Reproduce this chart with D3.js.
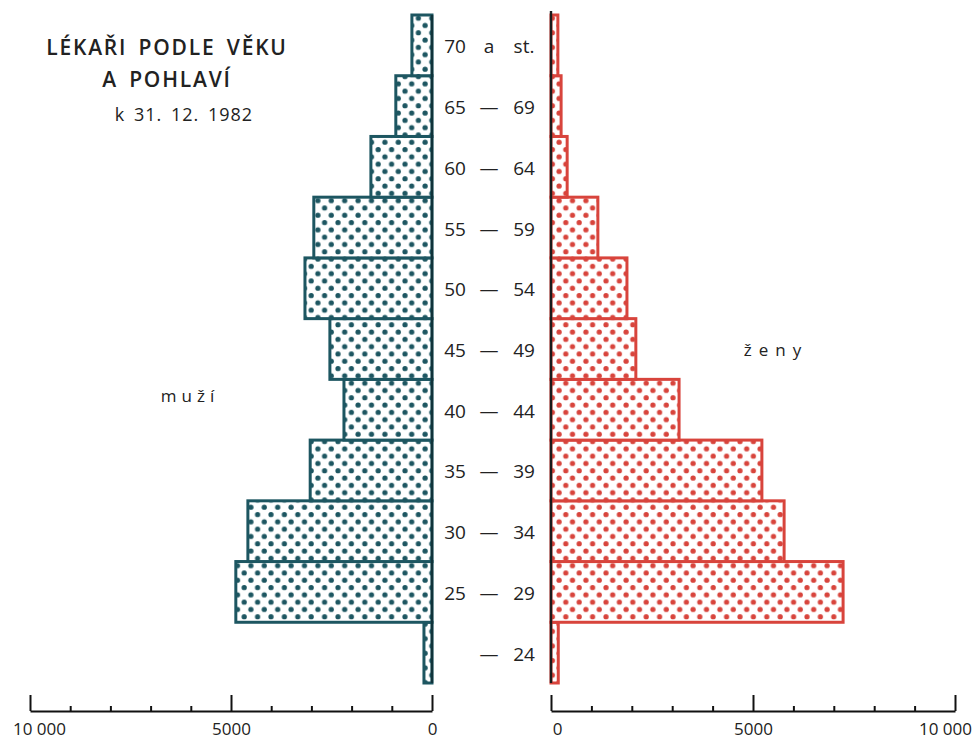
<!DOCTYPE html>
<html>
<head>
<meta charset="utf-8">
<script src="https://cdn.jsdelivr.net/npm/d3@7"></script>
<style>
  body { margin: 0; background: #fff; }
  svg text { font-family: "Open Sans", "DejaVu Sans", sans-serif; fill: #222; }
</style>
</head>
<body>
<svg id="chart" width="977" height="742"></svg>
<script>
// Age groups from youngest (bottom) to oldest (top)
const ageGroups = ["-24", "25-29", "30-34", "35-39", "40-44", "45-49", "50-54", "55-59", "60-64", "65-69", "70+"];
const ageFrom   = ["",    "25",    "30",    "35",    "40",    "45",    "50",    "55",    "60",    "65",    "70"];
const ageJoin   = ["—",   "—",     "—",     "—",     "—",     "—",     "—",     "—",     "—",     "—",     "a"];
const ageTo     = ["24",  "29",    "34",    "39",    "44",    "49",    "54",    "59",    "64",    "69",    "st."];

// Number of physicians per age group
const men   = [200, 4880, 4580, 3030, 2190, 2540, 3160, 2940, 1520, 900, 500];
const women = [180, 7230, 5770, 5220, 3170, 2100, 1880, 1160, 400, 250, 170];

// Axis ticks
const tickValues = [0, 1000, 2000, 3000, 4000, 5000, 6000, 7000, 8000, 9000, 10000];
const tickLabels = { 0: "0", 5000: "5000", 10000: "10 000" };

const svg = d3.select("#chart");
const teal = "#1d5661";
const red = "#d8443c";

const xL = d3.scaleLinear().domain([0, 10000]).range([432, 30]);
const xR = d3.scaleLinear().domain([0, 10000]).range([551, 955]);
const y = d3.scaleBand().domain(ageGroups.slice().reverse()).range([15, 683]).padding(0);

// Dotted fill patterns (staggered rows)
const defs = svg.append("defs");
function dotPattern(id, color) {
  const p = defs.append("pattern")
    .attr("id", id).attr("patternUnits", "userSpaceOnUse")
    .attr("width", 13.4).attr("height", 14.6);
  p.append("rect").attr("width", 13.4).attr("height", 14.6).attr("fill", "#fff");
  p.append("circle").attr("cx", 3).attr("cy", 3.6).attr("r", 2.6).attr("fill", color);
  p.append("circle").attr("cx", 9.7).attr("cy", 10.9).attr("r", 2.6).attr("fill", color);
}
dotPattern("dotsTeal", teal);
dotPattern("dotsRed", red);

// Men (left)
svg.append("g").selectAll("rect").data(ageGroups).join("rect")
  .attr("x", (d, i) => xL(men[i]))
  .attr("y", d => y(d))
  .attr("width", (d, i) => xL(0) - xL(men[i]))
  .attr("height", y.bandwidth())
  .attr("fill", "url(#dotsTeal)")
  .attr("stroke", teal).attr("stroke-width", 3);

// Women (right)
svg.append("g").selectAll("rect").data(ageGroups).join("rect")
  .attr("x", xR(0))
  .attr("y", d => y(d))
  .attr("width", (d, i) => xR(women[i]) - xR(0))
  .attr("height", y.bandwidth())
  .attr("fill", "url(#dotsRed)")
  .attr("stroke", red).attr("stroke-width", 3);

// Vertical base lines
svg.append("line").attr("x1", xL(0)).attr("x2", xL(0)).attr("y1", 15).attr("y2", 683)
  .attr("stroke", "#10333a").attr("stroke-width", 2.4);
svg.append("line").attr("x1", xR(0)).attr("x2", xR(0)).attr("y1", 11).attr("y2", 683)
  .attr("stroke", "#1a1a1a").attr("stroke-width", 2.4);

// Age labels in the centre column
const lab = svg.append("g").attr("font-size", 19);
ageGroups.forEach((g, i) => {
  const cy = y(g) + y.bandwidth() / 2 + 1;
  lab.append("text").attr("x", 455).attr("y", cy).attr("text-anchor", "middle")
    .attr("dominant-baseline", "central").text(ageFrom[i]);
  lab.append("text").attr("x", 489).attr("y", cy).attr("text-anchor", "middle")
    .attr("dominant-baseline", "central").text(ageJoin[i]);
  lab.append("text").attr("x", 524).attr("y", cy).attr("text-anchor", "middle")
    .attr("dominant-baseline", "central").text(ageTo[i]);
});

// Bottom axes with ticks pointing upward
function drawAxis(scale, labelShift) {
  const axis = d3.axisBottom(scale)
    .tickValues(tickValues)
    .tickSizeInner(-5).tickSizeOuter(0)
    .tickPadding(12)
    .tickFormat(d => tickLabels[d] || "");
  const g = svg.append("g").attr("transform", "translate(0,711)").call(axis);
  g.select(".domain").attr("stroke", "#111").attr("stroke-width", 2);
  g.selectAll(".tick line").attr("stroke", "#111").attr("stroke-width", 2)
    .filter(d => d % 5000 === 0).attr("y2", -16);
  g.selectAll(".tick text").attr("font-size", 17)
    .attr("font-family", "\"Open Sans\", sans-serif").attr("fill", "#222")
    .attr("dx", d => labelShift[d] || 0);
}
drawAxis(xL, { 10000: 9 });
drawAxis(xR, { 0: 6, 10000: -10 });

// Title block
svg.append("text").attr("x", 167).attr("y", 55).attr("text-anchor", "middle")
  .attr("font-size", 21).attr("font-weight", 600).attr("letter-spacing", 1.8).attr("word-spacing", 4)
  .text("LÉKAŘI PODLE VĚKU");
svg.append("text").attr("x", 167).attr("y", 87).attr("text-anchor", "middle")
  .attr("font-size", 21).attr("font-weight", 600).attr("letter-spacing", 1.8).attr("word-spacing", 4)
  .text("A POHLAVÍ");
svg.append("text").attr("x", 184).attr("y", 121).attr("text-anchor", "middle")
  .attr("font-size", 18).attr("letter-spacing", 1).attr("word-spacing", 3)
  .text("k 31. 12. 1982");

// Series labels
svg.append("text").attr("x", 190).attr("y", 402).attr("text-anchor", "middle")
  .attr("font-size", 17).attr("letter-spacing", 5).text("muží");
svg.append("text").attr("x", 776).attr("y", 356).attr("text-anchor", "middle")
  .attr("font-size", 17).attr("letter-spacing", 7).text("ženy");
</script>
</body>
</html>
